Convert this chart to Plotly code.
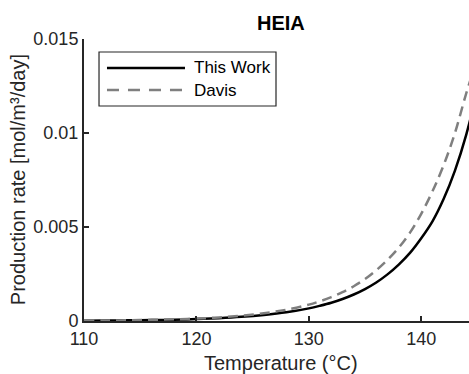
import plotly.graph_objects as go

# Temperature grid (°C) and HEIA production rates (mol/m³/day)
temperature = [110, 112, 114, 116, 118, 120, 122, 124, 126, 128, 130,
               131, 132, 133, 134, 135, 136, 137, 138, 139, 140,
               141, 142, 143, 144, 145]
this_work = [0.000016, 0.000023, 0.000034, 0.00005, 0.00007, 0.0001,
             0.00015, 0.00022, 0.00032, 0.00046, 0.00067,
             0.00081, 0.00097, 0.00117, 0.00141, 0.0017, 0.00205,
             0.00248, 0.003, 0.00362, 0.0044,
             0.0053, 0.0065, 0.008, 0.0099, 0.0123]
davis = [0.000018, 0.000027, 0.00004, 0.00006, 0.00009, 0.00013,
         0.00019, 0.00028, 0.00041, 0.0006, 0.00087,
         0.00105, 0.00127, 0.00153, 0.00185, 0.00223, 0.0027,
         0.00325, 0.0039, 0.0047, 0.0057,
         0.0069, 0.0083, 0.01, 0.0121, 0.014]

x_ticks = [110, 120, 130, 140]
y_ticks = [0, 0.005, 0.01, 0.015]
y_tick_text = ["0", "0.005", "0.01", "0.015"]

FONT = "Liberation Sans, Arial, Helvetica, sans-serif"
AXIS_COLOR = "#262626"
GRAY = "#7f7f7f"

fig = go.Figure()
fig.add_trace(go.Scatter(x=temperature, y=this_work, mode="lines", name="This Work",
                         line=dict(color="black", width=2.5, shape="spline"),
                         showlegend=False))
fig.add_trace(go.Scatter(x=temperature, y=davis, mode="lines", name="Davis",
                         line=dict(color=GRAY, width=2.5, dash="10px,6px", shape="spline"),
                         showlegend=False))

axis_common = dict(showgrid=False, zeroline=False, showline=True, linecolor=AXIS_COLOR,
                   linewidth=2, ticks="inside", ticklen=5, tickwidth=1.5,
                   tickcolor=AXIS_COLOR, tickfont=dict(family=FONT, size=18, color=AXIS_COLOR),
                   mirror=False)
fig.update_xaxes(range=[110, 144.25], tickvals=x_ticks, **axis_common)
fig.update_yaxes(range=[0, 0.015], tickvals=y_ticks, ticktext=y_tick_text, **axis_common)

annotations = [
    dict(text="<b>HEIA</b>", x=127.5, xref="x", y=1.057, yref="paper", showarrow=False,
         xanchor="center", yanchor="middle", font=dict(family=FONT, size=20, color="black")),
    dict(text="Temperature (°C)", x=127.5, xref="x", y=-0.149, yref="paper", showarrow=False,
         xanchor="center", yanchor="middle", font=dict(family=FONT, size=20, color=AXIS_COLOR)),
    dict(text="Production rate [mol/m³/day]", x=-0.171, xref="paper", y=0.5, yref="paper",
         textangle=-90, showarrow=False, xanchor="center", yanchor="middle",
         font=dict(family=FONT, size=20, color=AXIS_COLOR)),
    # legend labels
    dict(text="This Work", x=0.2805, xref="paper", y=0.8972, yref="paper", showarrow=False,
         xanchor="left", yanchor="middle", font=dict(family=FONT, size=17, color="black")),
    dict(text="Davis", x=0.2805, xref="paper", y=0.8191, yref="paper", showarrow=False,
         xanchor="left", yanchor="middle", font=dict(family=FONT, size=17, color="black")),
]

shapes = [
    # legend frame
    dict(type="rect", xref="paper", yref="paper", x0=0.039, x1=0.4987, y0=0.7624, y1=0.9539,
         line=dict(color=AXIS_COLOR, width=1.2), fillcolor="white", layer="above"),
    # legend line samples
    dict(type="line", xref="paper", yref="paper", x0=0.0597, x1=0.2623, y0=0.8972, y1=0.8972,
         line=dict(color="black", width=2.5)),
    dict(type="line", xref="paper", yref="paper", x0=0.0597, x1=0.2623, y0=0.8191, y1=0.8191,
         line=dict(color=GRAY, width=2.5, dash="12px,9px")),
]

fig.update_layout(
    width=469, height=374,
    margin=dict(l=84, r=0, t=39, b=53),
    paper_bgcolor="white", plot_bgcolor="white",
    annotations=annotations, shapes=shapes,
    font=dict(family=FONT),
)

fig.write_html("out.html")
